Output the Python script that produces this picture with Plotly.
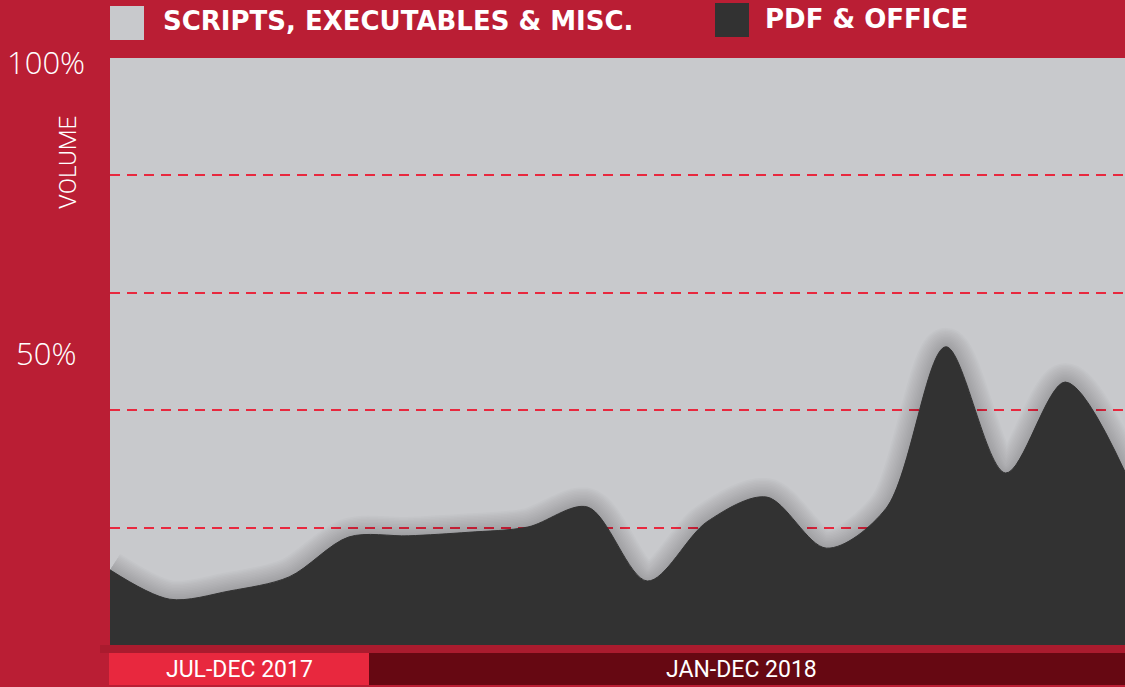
import plotly.graph_objects as go

months = ["Jul 2017", "Aug 2017", "Sep 2017", "Oct 2017", "Nov 2017", "Dec 2017",
          "Jan 2018", "Feb 2018", "Mar 2018", "Apr 2018", "May 2018", "Jun 2018",
          "Jul 2018", "Aug 2018", "Sep 2018", "Oct 2018", "Nov 2018", "Dec 2018"]
pdf_office = [12.8, 7.8, 9.2, 11.6, 18.4, 18.6, 19.2, 20.1, 23.5, 10.9,
              21.0, 25.2, 16.5, 23.3, 50.8, 29.3, 44.8, 29.5]
legend_labels = ["SCRIPTS, EXECUTABLES & MISC.", "PDF & OFFICE"]
y_tick_vals = [0, 50, 100]
y_tick_text = ["0%", "50%", "100%"]
period_labels = ["JUL-DEC 2017", "JAN-DEC 2018"]

BG = "#BA1E34"
GRAY = "#C8C9CC"
DARK = "#323232"
BRIGHT = "#E8283E"
MAROON = "#660812"

W, H = 1125, 687
L, R, T, B = 110, 0, 58, 42
PW, PH = W - L - R, H - T - B


def px(x):
    return (x - L) / PW


def py(y):
    return (H - B - y) / PH


x = list(range(len(months)))
fig = go.Figure()

# soft shadow around the dark area
for w in range(38, 1, -3):
    fig.add_trace(go.Scatter(x=x, y=pdf_office, mode="lines",
                             line=dict(color="rgba(20,20,30,0.015)", width=w, shape="spline", smoothing=0.9),
                             hoverinfo="skip", showlegend=False))

fig.add_trace(go.Scatter(x=x, y=pdf_office, mode="lines", fill="tozeroy",
                         fillcolor=DARK, line=dict(color=DARK, width=1, shape="spline", smoothing=0.9),
                         name=legend_labels[1], showlegend=False,
                         customdata=months, hovertemplate="%{customdata}: %{y}%<extra></extra>"))

shapes = []
annotations = []

# strip below plot
shapes.append(dict(type="rect", xref="paper", yref="paper", x0=px(100), x1=px(1125),
                   y0=py(653), y1=py(645), fillcolor="#AA1B2E", line_width=0, layer="below"))
# period bands
split = px(369)
shapes.append(dict(type="rect", xref="paper", yref="paper", x0=px(109), x1=split,
                   y0=py(685), y1=py(653), fillcolor=BRIGHT, line_width=0))
shapes.append(dict(type="rect", xref="paper", yref="paper", x0=split, x1=1,
                   y0=py(685), y1=py(653), fillcolor=MAROON, line_width=0))
annotations.append(dict(xref="paper", yref="paper", x=(px(109) + split) / 2, y=py(669),
                        text=period_labels[0], showarrow=False, xanchor="center", yanchor="middle",
                        font=dict(family="Roboto", size=23, color="white")))
annotations.append(dict(xref="paper", yref="paper", x=(split + 1) / 2 - 6 / PW, y=py(669),
                        text=period_labels[1], showarrow=False, xanchor="center", yanchor="middle",
                        font=dict(family="Roboto", size=23, color="white")))

# legend
shapes.append(dict(type="rect", xref="paper", yref="paper", x0=px(110), x1=px(144),
                   y0=py(40), y1=py(6), fillcolor=GRAY, line_width=0))
annotations.append(dict(xref="paper", yref="paper", x=px(161), y=py(21),
                        text=legend_labels[0], showarrow=False, xanchor="left", yanchor="middle",
                        font=dict(family="DejaVu Sans", size=26, color="white", weight="bold")))
shapes.append(dict(type="rect", xref="paper", yref="paper", x0=px(715), x1=px(749),
                   y0=py(37), y1=py(3), fillcolor=DARK, line_width=0))
annotations.append(dict(xref="paper", yref="paper", x=px(763), y=py(19),
                        text=legend_labels[1], showarrow=False, xanchor="left", yanchor="middle",
                        font=dict(family="DejaVu Sans", size=26, color="white", weight="bold")))

# y tick labels
for v, t in zip(y_tick_vals, y_tick_text):
    annotations.append(dict(xref="paper", yref="y", x=px(46), y=v + (-0.6 if v == 0 else (-0.6 if v == 100 else -0.3)),
                            text=t, showarrow=False, xanchor="center", yanchor="middle",
                            font=dict(family="Open Sans", size=31, color="white", weight=300)))
annotations.append(dict(xref="paper", yref="paper", x=px(68), y=py(163),
                        text="VOLUME", textangle=-90, showarrow=False,
                        xanchor="center", yanchor="middle",
                        font=dict(family="Roboto", size=24, color="white", weight=300)))

fig.update_layout(
    width=W, height=H,
    margin=dict(l=L, r=R, t=T, b=B, pad=0),
    paper_bgcolor=BG, plot_bgcolor=GRAY,
    showlegend=False,
    shapes=shapes, annotations=annotations,
    xaxis=dict(range=[0, len(months) - 1], showgrid=False, zeroline=False,
               showticklabels=False, ticks="", showline=False, fixedrange=True),
    yaxis=dict(range=[0, 100], tickvals=[20, 40, 60, 80], showticklabels=False, ticks="",
               showgrid=True, gridcolor=BRIGHT, gridwidth=1.5, griddash="10px,7px",
               zeroline=False, showline=False, fixedrange=True),
)

fig.write_html("out.html", config={"displayModeBar": False},
               post_script="document.body.style.margin='0';document.body.style.background='" + BG + "';")
